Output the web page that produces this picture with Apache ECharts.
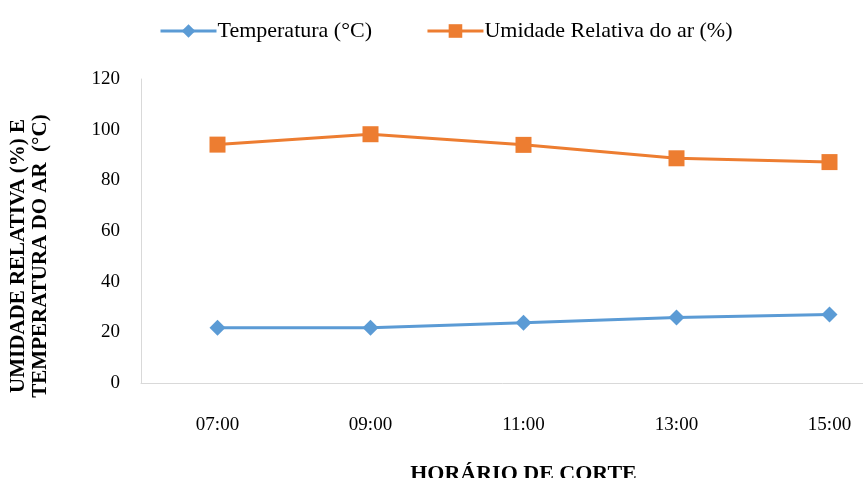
<!DOCTYPE html>
<html>
<head>
<meta charset="utf-8">
<script src="https://cdn.jsdelivr.net/npm/echarts@6/dist/echarts.min.js"></script>
<style>
html,body{margin:0;padding:0;background:#fff;}
#chart{width:863px;height:478px;}
</style>
</head>
<body>
<div id="chart"></div>
<script>
const categories = ['07:00', '09:00', '11:00', '13:00', '15:00'];
const temperatura = [21.8, 21.8, 23.8, 25.9, 27.0];
const umidade = [94.1, 98.2, 94.0, 88.7, 87.2];
const seriesNames = ['Temperatura (°C)', 'Umidade Relativa do ar (%)'];
const yTitle = 'UMIDADE RELATIVA (%) E\nTEMPERATURA DO AR  (°C)';
const xTitle = 'HORÁRIO DE CORTE';

const serif = '"Liberation Serif", "DejaVu Serif", serif';
const chart = echarts.init(document.getElementById('chart'));
chart.setOption({
  animation: false,
  backgroundColor: '#fff',
  legend: {
    top: 15,
    left: 154,
    itemWidth: 56,
    itemHeight: 17,
    itemGap: 54,
    lineStyle: { width: 3 },
    textStyle: { fontFamily: serif, fontSize: 22, color: '#000', padding: [0, 0, 0, -4] },
    data: seriesNames
  },
  grid: { left: 141, top: 79, bottom: 95, right: -43, containLabel: false, outerBoundsMode: 'none' },
  xAxis: {
    type: 'category',
    data: categories,
    boundaryGap: true,
    axisLine: { show: true, lineStyle: { color: '#d9d9d9', width: 1 } },
    axisTick: { show: false },
    axisLabel: { margin: 33, fontFamily: serif, fontSize: 19, color: '#000' },
    name: xTitle,
    nameLocation: 'middle',
    nameGap: 80,
    nameTextStyle: { fontFamily: serif, fontSize: 22, fontWeight: 'bold', color: '#000' }
  },
  yAxis: {
    type: 'value',
    min: 0, max: 120, interval: 20,
    axisLine: { show: true, lineStyle: { color: '#d9d9d9', width: 1 } },
    axisTick: { show: false },
    splitLine: { show: false },
    axisLabel: { margin: 21, fontFamily: serif, fontSize: 19, color: '#000' },
    name: yTitle,
    nameLocation: 'middle',
    nameGap: 89,
    nameRotate: 90,
    nameTextStyle: { fontFamily: serif, fontSize: 21, fontWeight: 'bold', color: '#000', lineHeight: 22, padding: [0, 50, 0, 0] }
  },
  series: [
    {
      name: seriesNames[0],
      type: 'line',
      data: temperatura,
      symbol: 'diamond',
      symbolSize: 16,
      lineStyle: { color: '#5B9BD5', width: 3 },
      itemStyle: { color: '#5B9BD5' }
    },
    {
      name: seriesNames[1],
      type: 'line',
      data: umidade,
      symbol: 'rect',
      symbolSize: 16,
      lineStyle: { color: '#ED7D31', width: 3 },
      itemStyle: { color: '#ED7D31' }
    }
  ]
});
</script>
</body>
</html>
